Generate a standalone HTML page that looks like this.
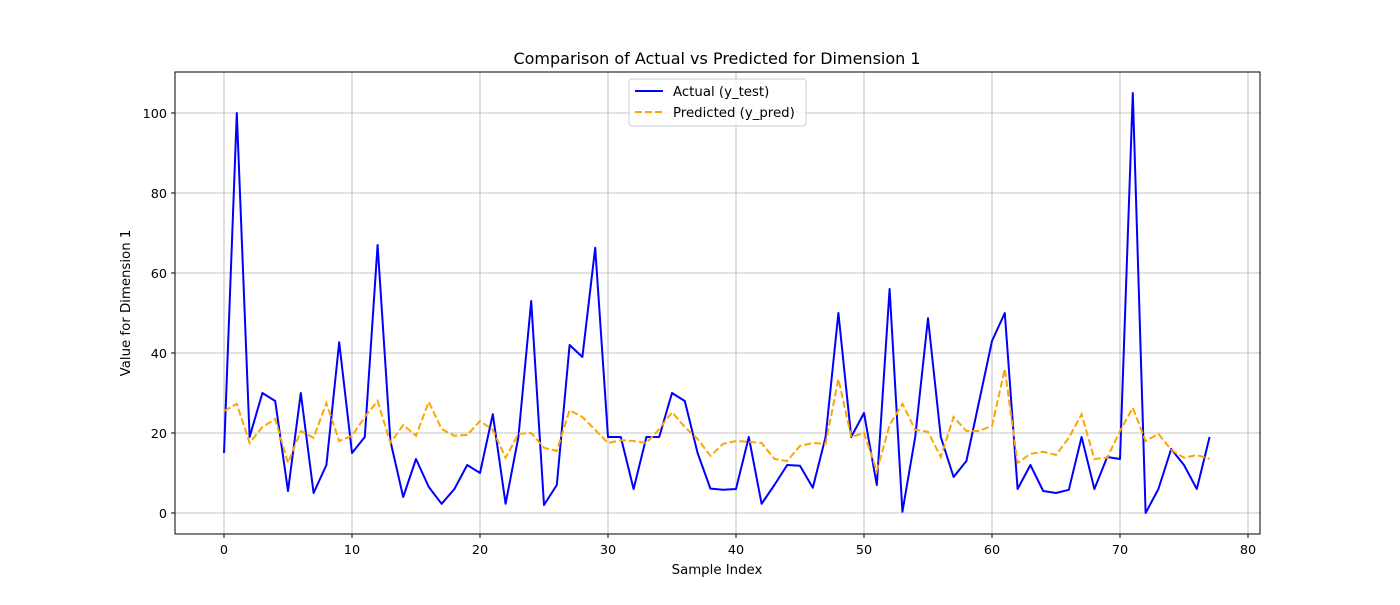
<!DOCTYPE html>
<html><head><meta charset="utf-8"><style>
body{margin:0;background:#fff;}
svg text{font-family:"DejaVu Sans","Liberation Sans",sans-serif;fill:#000;}
</style></head><body>
<svg id="chart" width="1400" height="600" xmlns="http://www.w3.org/2000/svg">
<rect width="1400" height="600" fill="#fff"/>
<g id="grid"></g>
<g id="series"></g>
<rect x="175" y="72" width="1085" height="462" fill="none" stroke="#000" stroke-width="1"/>
<g id="ticks"></g>
<text x="717" y="64" font-size="16" text-anchor="middle">Comparison of Actual vs Predicted for Dimension 1</text>
<text x="717" y="574" font-size="13.3" text-anchor="middle">Sample Index</text>
<text transform="translate(130,303) rotate(-90)" font-size="13.3" text-anchor="middle">Value for Dimension 1</text>
<g>
<rect x="629" y="79" width="177" height="47" rx="3" fill="#fff" fill-opacity="0.8" stroke="#ccc"/>
<line x1="635" y1="91" x2="663" y2="91" stroke="#0000ff" stroke-width="2"/>
<text x="673" y="96" font-size="13.3">Actual (y_test)</text>
<line x1="635" y1="112" x2="663" y2="112" stroke="#ffa500" stroke-width="2" stroke-dasharray="7,3"/>
<text x="673" y="117" font-size="13.3">Predicted (y_pred)</text>
</g>
</svg>
<script>
const actual=[15,100,19,30,28,5.5,30,5,12,42.7,15,19,67,18,4,13.5,6.5,2.3,6,12,10,24.7,2.3,19,53,2,7,42,39,66.3,19,19,6,19,19,30,28,15,6.1,5.8,6,19,2.3,7,12,11.8,6.3,19,50,19,25,7,56,0.3,19,48.7,19,9,13,28,43,50,6,12,5.5,5,5.8,19,6,14,13.5,105,0,6,16,12,6,19];
const predicted=[25.5,27.3,17.5,21.5,23.5,12.5,20.5,18.8,27.5,18,19.3,24,28,17.5,22,19.3,27.8,21,19.3,19.5,23,20.8,13.8,19.8,20,16.3,15.5,25.7,24,20.8,17.5,18.2,18,17.5,21,25.2,21.5,18.5,14.3,17.3,18,17.8,17.5,13.5,13,16.8,17.5,17.3,33.5,19,20,10.5,22,27.3,20.8,20.3,14,24,20.5,20.5,21.8,36,12.5,14.8,15.3,14.5,18.8,24.7,13.5,13.8,20.5,26.3,18,19.8,15.8,13.8,14.5,13.5];
const xTicks=[0,10,20,30,40,50,60,70,80];
const yTicks=[0,20,40,60,80,100];
const NS="http://www.w3.org/2000/svg";
function sx(v){return 224+12.8*v;}
function sy(v){return 513-4*v;}
function mk(tag,attrs,parent){const e=document.createElementNS(NS,tag);for(const k in attrs)e.setAttribute(k,attrs[k]);parent.appendChild(e);return e;}
const grid=document.getElementById('grid'),ticks=document.getElementById('ticks'),series=document.getElementById('series');
xTicks.forEach(t=>{
 const g=mk('line',{x1:sx(t),x2:sx(t),y1:72,y2:534,stroke:'#b0b0b0','stroke-width':0.8},grid);
 
 
 mk('line',{x1:sx(t),x2:sx(t),y1:534,y2:538,stroke:'#000'},ticks);
 const tx=mk('text',{x:sx(t),y:554,'font-size':12.8,'text-anchor':'middle'},ticks);
 tx.textContent=t;
 
 
});
yTicks.forEach(t=>{
 const g=mk('line',{x1:175,x2:1260,y1:sy(t),y2:sy(t),stroke:'#b0b0b0','stroke-width':0.8},grid);
 
 
 mk('line',{x1:171,x2:175,y1:sy(t),y2:sy(t),stroke:'#000'},ticks);
 const tx=mk('text',{x:167,y:sy(t)+5,'font-size':12.8,'text-anchor':'end'},ticks);
 tx.textContent=t;
 
 
});
const pa=mk('polyline',{points:actual.map((v,i)=>sx(i)+','+sy(v)).join(' '),fill:'none',stroke:'#0000ff','stroke-width':2,'stroke-linejoin':'round'},series);


const pp=mk('polyline',{points:predicted.map((v,i)=>sx(i)+','+sy(v)).join(' '),fill:'none',stroke:'#ffa500','stroke-width':2,'stroke-dasharray':'7,3'},series);


</script>
</body></html>
